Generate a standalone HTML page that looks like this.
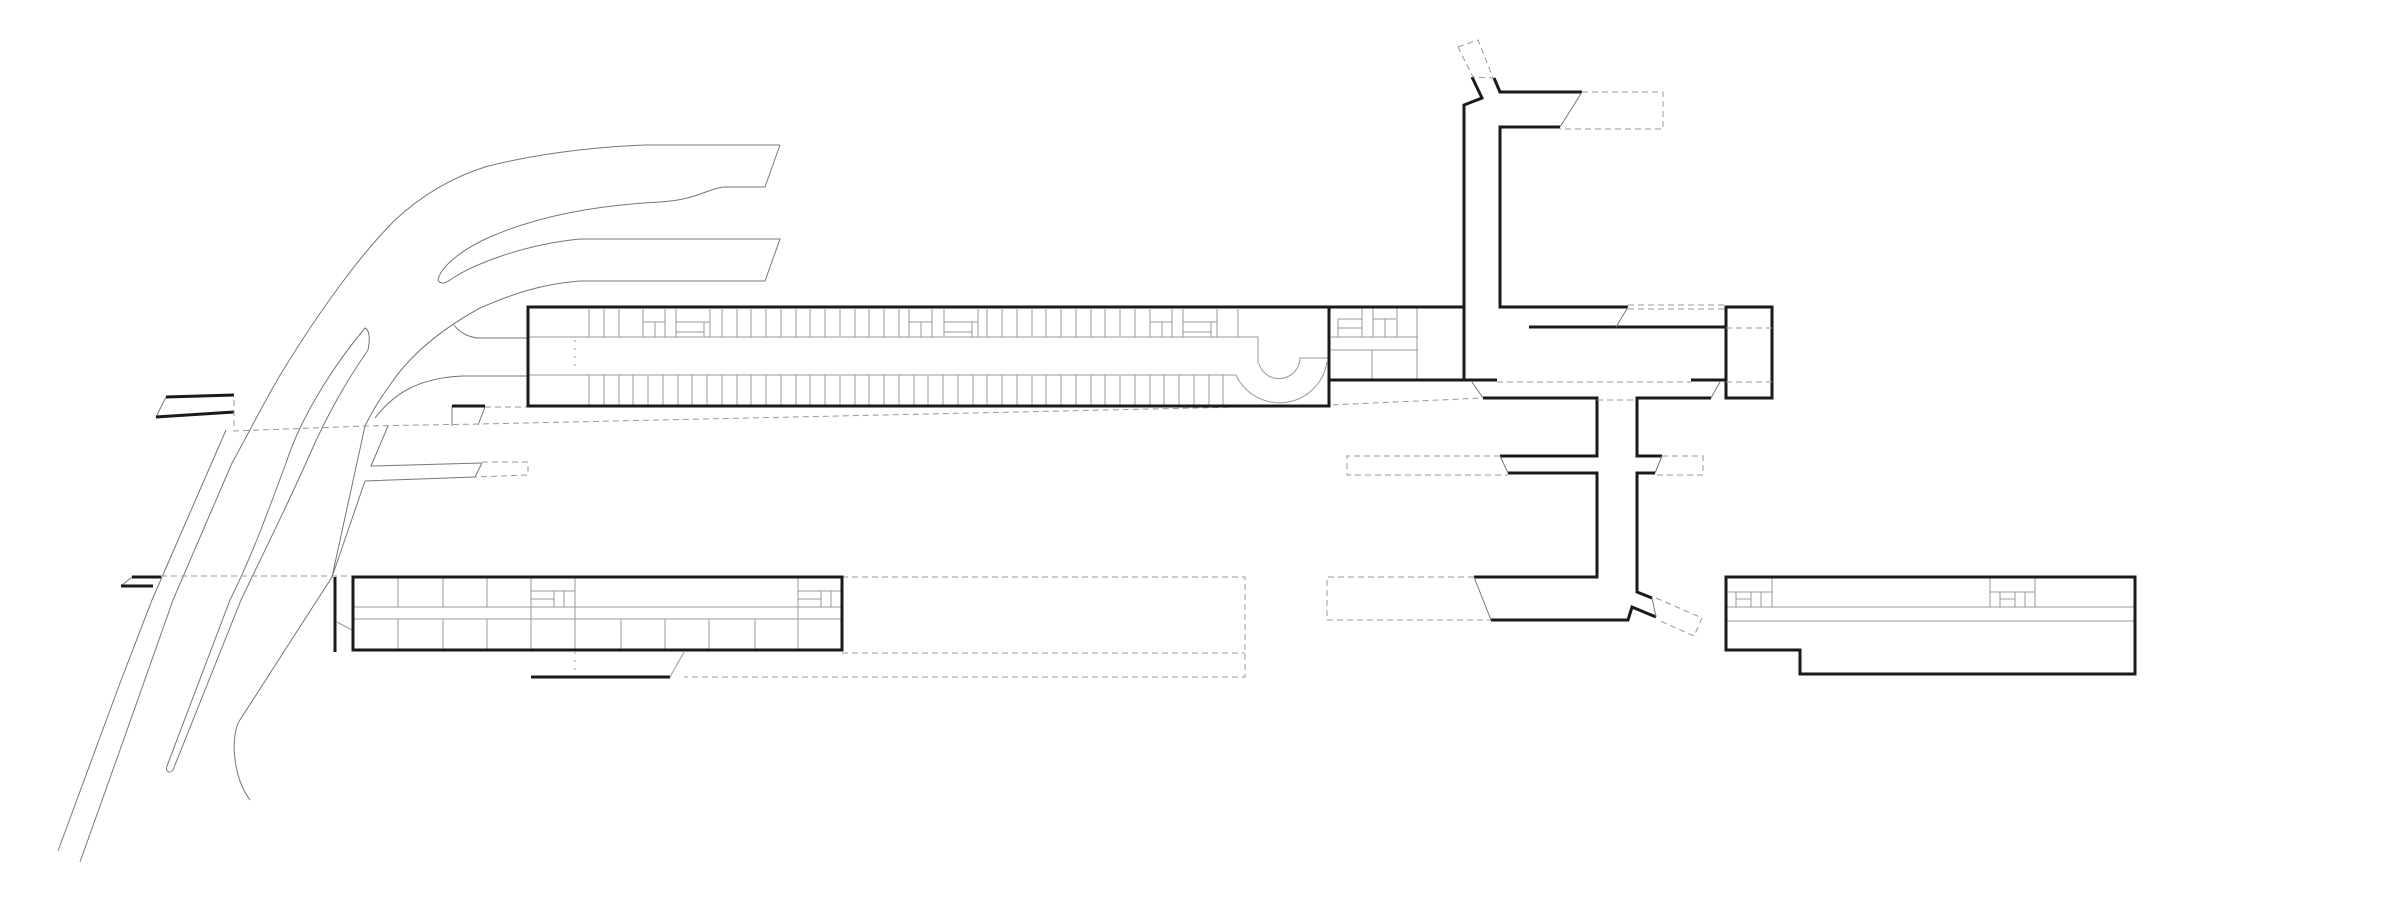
<!DOCTYPE html>
<html><head><meta charset="utf-8"><style>html,body{margin:0;padding:0;background:#fff}svg{display:block}</style></head>
<body>
<svg width="2381" height="900" viewBox="0 0 2381 900" xmlns="http://www.w3.org/2000/svg" fill="none" stroke-linejoin="miter">
<!-- roads -->
<g stroke="#777" stroke-width="1">
<path d="M780 145 L645 145 C590 147 530 155 485 167 C450 178 420 197 395 220 C360 255 320 310 282 372 C265 400 245 440 232 463 L173 600 L120 750 L80 862"/>
<path d="M780 145 L765 187 L723 187 C705 190 695 200 660 202 C600 205 540 215 490 237 C460 250 440 268 438 280 C440 284 444 284 450 280 C470 266 520 245 580 239 L780 239 L765 281 L580 281 C540 284 510 295 480 308 C440 330 410 355 390 385 C375 405 368 420 365 426 L332 577 L238 723 C230 745 235 780 250 800"/>
<path d="M454 325 C460 333 470 338 480 338 L528 338"/>
<path d="M375 418 C395 392 420 378 462 376 L528 376"/>
<path d="M365 328 C370 330 370 340 368 350 C340 390 320 430 306 463 C285 510 260 560 241 600 L173 770 C170 774 165 772 167 766 L230 600 C250 560 265 520 286 463 C300 420 330 370 365 328 Z"/>
<path d="M226 430 L152 600 L120 683 L58 851"/>
<path d="M388 426 L371 466 L482 463"/>
<path d="M475 477 L365 481 L332 577"/>
<path d="M156 417 L166 397"/>
<path d="M121 586 L132 577"/>
<path d="M452 406 L452 426"/><path d="M485 407 L478 425"/><path d="M482 463 L475 477"/>
</g>
<g stroke="#1a1a1a" stroke-width="3">
<path d="M166 397 L234 395"/><path d="M156 417 L234 412"/>
<path d="M452 406 L485 406"/>
<path d="M132 577 L161 577"/><path d="M121 586 L153 586"/>
<path d="M335 577 L335 652"/>
</g>
<g stroke="#999" stroke-width="1" stroke-dasharray="6,4">
<path d="M234 400 L234 431 L365 426 L480 424 L1330 405 L1483 398"/>
<path d="M485 407 L528 407"/>
<path d="M482 462 L528 462 L528 475 L475 477"/>
<path d="M161 576 L352 576"/>
<path d="M842 577 L1245 577 L1245 677 L684 677"/>
<path d="M842 653 L1245 653"/>
</g>
<!-- main parking block -->
<g stroke="#999" stroke-width="1">
<path d="M528 337 L1258 337 L1258 364"/>
<path d="M528 375 L1236 375"/>
<path d="M1259 364 A21 21 0 0 0 1300 358 L1328 358"/>
<path d="M1236 375 A48 48 0 0 0 1327 362"/>
<path d="M589 375V405M604 375V405M619 375V405M633 375V405M648 375V405M663 375V405M678 375V405M692 375V405M707 375V405M722 375V405M737 375V405M751 375V405M766 375V405M781 375V405M796 375V405M810 375V405M825 375V405M840 375V405M855 375V405M869 375V405M884 375V405M899 375V405M914 375V405M928 375V405M943 375V405M958 375V405M973 375V405M987 375V405M1002 375V405M1017 375V405M1032 375V405M1046 375V405M1061 375V405M1076 375V405M1091 375V405M1105 375V405M1120 375V405M1135 375V405M1150 375V405M1164 375V405M1179 375V405M1194 375V405M1209 375V405M1223 375V405"/>
<path d="M589 309V337M604 309V337M619 309V337M643 309V337M665 309V337M676 309V337M710 309V337M722 309V337M737 309V337M751 309V337M766 309V337M781 309V337M796 309V337M810 309V337M825 309V337M840 309V337M855 309V337M869 309V337M884 309V337M899 309V337M909 309V337M932 309V337M944 309V337M978 309V337M987 309V337M1002 309V337M1017 309V337M1032 309V337M1046 309V337M1061 309V337M1076 309V337M1091 309V337M1105 309V337M1120 309V337M1135 309V337M1150 309V337M1172 309V337M1183 309V337M1217 309V337M1238 309V337"/>
<path d="M643 322H665M655 322V337M676 322H710M676 332H704M704 322V337M909 322H932M921 322V337M944 322H978M944 332H972M972 322V337M1150 322H1172M1162 322V337M1183 322H1217M1183 332H1211M1211 322V337"/>
<path d="M575 340V372" stroke-dasharray="2,6"/>
</g>
<rect x="528" y="307" width="801" height="99" stroke="#1a1a1a" stroke-width="3"/>
<!-- right section of main block -->
<g stroke="#999" stroke-width="1">
<path d="M1330 337H1418M1330 350H1418M1372 350V380M1417 307V380M1338 319H1362M1338 319V337M1338 328H1362M1362 307V337M1373 307V337M1373 319H1396M1385 319V337M1397 307V337"/>
</g>
<g stroke="#1a1a1a" stroke-width="3">
<path d="M1329 307 L1464 307"/>
<path d="M1330 380 L1497 380"/>
<path d="M1464 380 L1464 105 L1482 98 L1472 77"/>
<path d="M1494 78 L1500 92 L1582 92"/>
<path d="M1560 127 L1500 127 L1500 307 L1628 307"/>
<path d="M1529 327 L1726 327"/>
<path d="M1691 380 L1726 380"/>
<path d="M1483 398 L1597 398 L1597 456 L1500 456"/>
<path d="M1508 473 L1597 473 L1597 577 L1474 577"/>
<path d="M1491 620 L1628 620 L1632 607 L1656 617"/>
<path d="M1711 398 L1637 398 L1637 456 L1662 456"/>
<path d="M1655 473 L1637 473 L1637 592 L1652 598"/>
<rect x="1726" y="307" width="46" height="91"/>
</g>
<g stroke="#777" stroke-width="1">
<path d="M1560 127 L1582 92"/><path d="M1616 327 L1628 307"/>
<path d="M1472 382 L1483 398"/><path d="M1711 398 L1720 382"/>
<path d="M1500 456 L1508 473"/><path d="M1662 456 L1655 473"/>
<path d="M1474 577 L1491 620"/>
<path d="M1652 598 L1656 617"/>
</g>
<g stroke="#999" stroke-width="1" stroke-dasharray="6,4">
<path d="M1458 47 L1478 40 L1493 78 L1473 77 Z"/>
<path d="M1582 92 L1663 92 L1663 129 L1560 129"/>
<path d="M1628 305 L1726 305M1628 309 L1726 309"/>
<path d="M1726 328 L1772 328M1726 382 L1772 382"/>
<path d="M1497 382 L1691 382"/>
<path d="M1597 400 L1637 400"/>
<path d="M1500 456 L1347 456 L1347 475 L1508 475"/>
<path d="M1662 456 L1703 456 L1703 475 L1655 475"/>
<path d="M1474 577 L1327 577 L1327 620 L1491 620"/>
<path d="M1656 598 L1702 618 L1694 636 L1658 620"/>
</g>
<!-- bottom left block -->
<g stroke="#999" stroke-width="1">
<path d="M353 607H842M353 619H842"/>
<path d="M398 577V607M443 577V607M487 577V607M531 577V650M575 577V650M398 619V650M443 619V650M487 619V650M621 619V650M665 619V650M709 619V650M755 619V650M798 577V650"/>
<path d="M531 591H575M531 599H554M554 591V607M564 591V607M798 591H842M798 599H821M821 591V607M831 591V607"/>
<path d="M670 677 L684 652"/><path d="M337 622 L352 630"/>
<path d="M575 652V677" stroke-dasharray="2,6"/>
</g>
<rect x="353" y="577" width="489" height="73" stroke="#1a1a1a" stroke-width="3"/>
<path d="M531 677 L670 677" stroke="#1a1a1a" stroke-width="3"/>
<!-- bottom right block -->
<g stroke="#999" stroke-width="1">
<path d="M1726 607H2135M1726 621H2135"/>
<path d="M1726 592H1772M1772 577V607M1736 592V607M1751 592V607M1761 592V607M1736 599H1751"/>
<path d="M1990 577V607M2035 577V607M1990 592H2035M2000 592V607M2015 592V607M2025 592V607M2000 599H2015"/>
</g>
<path d="M1726 577 L2135 577 L2135 674 L1800 674 L1800 650 L1726 650 Z" stroke="#1a1a1a" stroke-width="3"/>
</svg>
</body></html>
